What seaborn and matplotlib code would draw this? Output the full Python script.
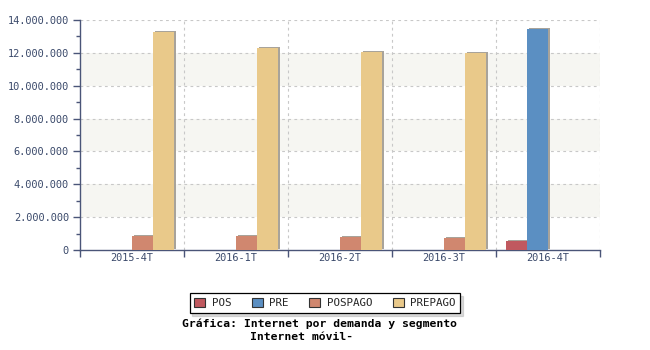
import numpy as np
import pandas as pd
import seaborn as sns
import matplotlib
matplotlib.use("Agg")
import matplotlib.pyplot as plt
from matplotlib.patches import Patch
from matplotlib.ticker import FixedLocator, MultipleLocator, FuncFormatter
import matplotlib.patheffects as pe

periods = ["2015-4T", "2016-1T", "2016-2T", "2016-3T", "2016-4T"]
segments = ["POS", "PRE", "POSPAGO", "PREPAGO"]
pos_vals = [np.nan, np.nan, np.nan, np.nan, 550000]
pre_vals = [np.nan, np.nan, np.nan, np.nan, 13430000]
pospago_vals = [850000, 850000, 800000, 720000, np.nan]
prepago_vals = [13250000, 12270000, 12050000, 11970000, np.nan]
colors = ["#c0595f", "#5b8fc2", "#d0876f", "#e9c98a"]

rows = []
for seg, vals in zip(segments, [pos_vals, pre_vals, pospago_vals, prepago_vals]):
    for p, v in zip(periods, vals):
        rows.append({"periodo": p, "segmento": seg, "valor": v})
df = pd.DataFrame(rows).dropna()

sns.set_theme(style="white")
plt.rcParams["font.family"] = ["DejaVu Sans Mono"]

fig = plt.figure(figsize=(6.5, 3.5), dpi=100)
ax = fig.add_axes([80 / 650, 1 - 250 / 350, 520 / 650, 230 / 350])

sns.barplot(data=df, x="periodo", y="valor", hue="segmento", order=periods,
            hue_order=segments, palette=colors, width=84 / 104, ax=ax,
            saturation=1, errorbar=None, legend=False, zorder=3)
shadow = [pe.SimplePatchShadow(offset=(1.2, 0.9), shadow_rgbFace="#a8a39a", alpha=1), pe.Normal()]
for container in ax.containers:
    for bar in container:
        bar.set_linewidth(0)
        bar.set_path_effects(shadow)

# alternating background bands
for lo in [2e6, 6e6, 10e6]:
    ax.axhspan(lo, lo + 2e6, facecolor="#f6f6f2", zorder=0, lw=0)

ax.set_xlim(-0.5, 4.5)
ax.set_ylim(0, 14e6)

grid_kw = dict(color="#c8c8c8", lw=0.8, ls=(0, (2.5, 3)), zorder=1)
for y in np.arange(2e6, 14.1e6, 2e6):
    ax.axhline(y, **grid_kw)
for x in np.arange(0.5, 4.6, 1.0):
    ax.axvline(x, **grid_kw)

for s in ["top", "right"]:
    ax.spines[s].set_visible(False)
for s in ["left", "bottom"]:
    ax.spines[s].set_color("#4a5578")
    ax.spines[s].set_linewidth(1.0)

ax.yaxis.set_major_locator(MultipleLocator(2e6))
ax.yaxis.set_minor_locator(MultipleLocator(1e6))
ax.yaxis.set_major_formatter(FuncFormatter(lambda v, _: f"{int(v):,}".replace(",", ".")))
ax.tick_params(axis="y", which="major", length=5, width=1, color="#4a5578",
               labelsize=7.4, labelcolor="#3b4a6b", pad=3, left=True)
ax.tick_params(axis="y", which="minor", length=3, width=1, color="#4a5578", left=True)

ax.set_xticks(range(len(periods)))
ax.set_xticklabels(periods)
ax.tick_params(axis="x", which="major", length=0, labelsize=7.4, labelcolor="#3b4a6b", pad=2)
ax.xaxis.set_minor_locator(FixedLocator(np.arange(-0.5, 4.6, 1.0)))
ax.tick_params(axis="x", which="minor", length=5, width=1, color="#4a5578", bottom=True)
ax.set_xlabel("")
ax.set_ylabel("")

handles = [Patch(facecolor=c, edgecolor="#333333", linewidth=0.8, label=s)
           for c, s in zip(colors, segments)]
leg = fig.legend(handles=handles, loc="center", bbox_to_anchor=(325 / 650, 1 - 303 / 350),
                 ncol=4, frameon=True, fancybox=False, shadow={"color": "#b4b4b4"},
                 fontsize=7.8, handlelength=1.0, handleheight=1.0, handletextpad=0.6,
                 columnspacing=1.9, borderpad=0.45, edgecolor="#000000")
leg.get_frame().set_linewidth(0.9)

fig.text(320 / 650, 1 - 324 / 350, "Gráfica: Internet por demanda y segmento",
         ha="center", va="center", fontsize=8.2, fontweight="bold", color="#000000")
fig.text(302 / 650, 1 - 337 / 350, "Internet móvil-",
         ha="center", va="center", fontsize=8.2, fontweight="bold", color="#000000")

fig.savefig("out.png", dpi=100)
